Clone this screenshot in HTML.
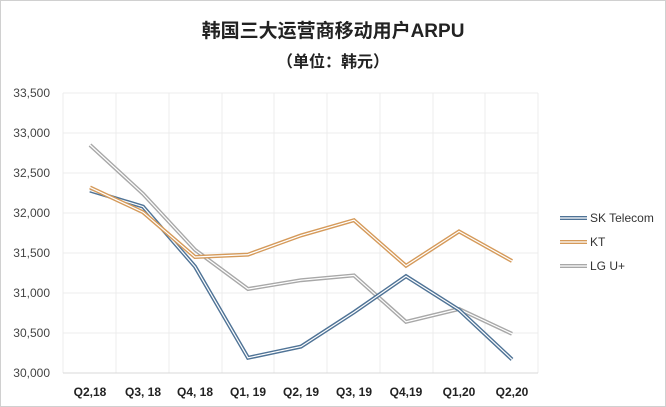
<!DOCTYPE html>
<html><head><meta charset="utf-8"><style>
body{margin:0;background:#fff}
svg{display:block}
text{font-family:"Liberation Sans","Noto Sans CJK SC",sans-serif}
</style></head><body>
<svg width="666" height="407" viewBox="0 0 666 407">
<rect x="0.5" y="0.5" width="665" height="406" fill="#fff" stroke="#d0d0d0"/>
<text x="333" y="37" text-anchor="middle" font-size="19" font-weight="bold" fill="#222">韩国三大运营商移动用户ARPU</text>
<text x="333" y="67" text-anchor="middle" font-size="16" font-weight="bold" fill="#222">（单位：韩元）</text>
<g stroke="#ececec" stroke-width="1">
<line x1="63" y1="93" x2="538" y2="93"/><line x1="63" y1="133" x2="538" y2="133"/>
<line x1="63" y1="173" x2="538" y2="173"/><line x1="63" y1="213" x2="538" y2="213"/>
<line x1="63" y1="253" x2="538" y2="253"/><line x1="63" y1="293" x2="538" y2="293"/>
<line x1="63" y1="333" x2="538" y2="333"/>
<line x1="63" y1="93" x2="63" y2="373"/><line x1="116" y1="93" x2="116" y2="373"/>
<line x1="169" y1="93" x2="169" y2="373"/><line x1="222" y1="93" x2="222" y2="373"/>
<line x1="274" y1="93" x2="274" y2="373"/><line x1="327" y1="93" x2="327" y2="373"/>
<line x1="380" y1="93" x2="380" y2="373"/><line x1="433" y1="93" x2="433" y2="373"/>
<line x1="485" y1="93" x2="485" y2="373"/><line x1="538" y1="93" x2="538" y2="373"/>
</g>
<line x1="63" y1="373" x2="538" y2="373" stroke="#d9d9d9"/>
<g font-size="12" fill="#444" text-anchor="end">
<text x="50" y="97">33,500</text><text x="50" y="137">33,000</text><text x="50" y="177">32,500</text>
<text x="50" y="217">32,000</text><text x="50" y="257">31,500</text><text x="50" y="297">31,000</text>
<text x="50" y="337">30,500</text><text x="50" y="377">30,000</text>
</g>
<g font-size="12" font-weight="bold" fill="#222" text-anchor="middle">
<text x="90" y="396">Q2,18</text><text x="143" y="396">Q3, 18</text><text x="195" y="396">Q4, 18</text>
<text x="248" y="396">Q1, 19</text><text x="301" y="396">Q2, 19</text><text x="354" y="396">Q3, 19</text>
<text x="406" y="396">Q4,19</text><text x="459" y="396">Q1,20</text><text x="512" y="396">Q2,20</text>
</g>
<g fill="none" stroke-linejoin="miter">
<polyline stroke="#a8a8a8" stroke-width="4" points="90,145 143,193.8 195,249.8 248,289 301,280.2 354,275.4 406,321.8 459,309 512,333.8"/>
<polyline stroke="#fff" stroke-width="1.2" points="90,145 143,193.8 195,249.8 248,289 301,280.2 354,275.4 406,321.8 459,309 512,333.8"/>
<polyline stroke="#4f7396" stroke-width="4" points="90,190.6 143,206.6 195,266.6 248,357.8 301,346.6 354,312.2 406,276.2 459,309.8 512,359.4"/>
<polyline stroke="#fff" stroke-width="1.2" points="90,190.6 143,206.6 195,266.6 248,357.8 301,346.6 354,312.2 406,276.2 459,309.8 512,359.4"/>
<polyline stroke="#d59a5a" stroke-width="4" points="90,187.4 143,212.2 195,257 248,254.6 301,235.4 354,220.2 406,265.8 459,231.4 512,261"/>
<polyline stroke="#fff" stroke-width="1.2" points="90,187.4 143,212.2 195,257 248,254.6 301,235.4 354,220.2 406,265.8 459,231.4 512,261"/>
<line x1="560" y1="218" x2="587" y2="218" stroke="#4f7396" stroke-width="4"/>
<line x1="560" y1="218" x2="587" y2="218" stroke="#fff" stroke-width="1.2"/>
<line x1="560" y1="242" x2="587" y2="242" stroke="#d59a5a" stroke-width="4"/>
<line x1="560" y1="242" x2="587" y2="242" stroke="#fff" stroke-width="1.2"/>
<line x1="560" y1="266" x2="587" y2="266" stroke="#a8a8a8" stroke-width="4"/>
<line x1="560" y1="266" x2="587" y2="266" stroke="#fff" stroke-width="1.2"/>
</g>
<g font-size="12" fill="#333">
<text x="590" y="222">SK Telecom</text><text x="590" y="246">KT</text><text x="590" y="270">LG U+</text>
</g>
</svg>
</body></html>
